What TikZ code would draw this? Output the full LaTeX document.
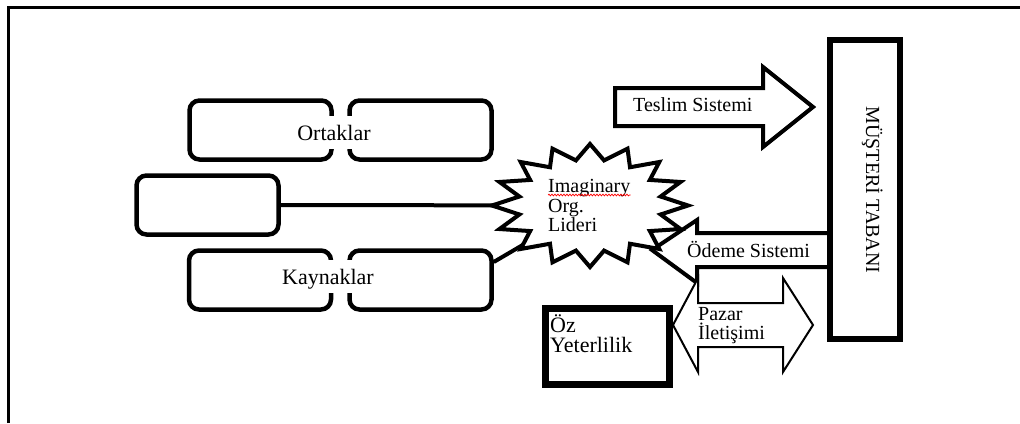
\documentclass[tikz,border=0pt]{standalone}
\usepackage{fontspec}
\setmainfont{Liberation Serif}
\usetikzlibrary{decorations.pathmorphing}

\begin{document}
\begin{tikzpicture}[x=1pt,y=-1pt,
  rbox/.style={draw, line width=4.5pt, rounded corners=10pt, minimum width=142pt, minimum height=59pt, inner sep=0pt},
  lbl/.style={font=\fontsize{20}{19}\selectfont, inner sep=0pt},
  biglbl/.style={font=\fontsize{22}{22}\selectfont, inner sep=0pt},
  gaplbl/.style={biglbl, fill=white, text height=15pt, text depth=0pt, inner ysep=9pt, inner xsep=2pt},
  link/.style={line width=4pt},
  bigarrow/.style={draw, fill=white, line width=4pt, line join=miter},
  thinarrow/.style={draw, fill=white, line width=2pt, line join=miter},
  heavybox/.style={draw, fill=white, inner sep=0pt},
  burst/.style={draw, fill=white, line width=4pt, line join=miter},
  spell/.style={red, line width=0.7pt, decorate, decoration={snake, amplitude=0.9pt, segment length=3pt}},
  frameline/.style={line width=3pt},
]
\useasboundingbox (0,0) rectangle (1020,423);

% page frame (top and left edges)
\draw[frameline] (8,423) -- (8,7) -- (1020,7);

% rounded boxes on the left
\node[rbox] (ortL) at (260.5,130) {};
\node[rbox] (ortR) at (420.5,130) {};
\node[rbox] (mid)  at (207.5,205) {};
\node[rbox] (kayL) at (260,280) {};
\node[rbox] (kayR) at (420.5,280) {};

% centre of the leader burst
\coordinate (lider) at (590,205.5);

% links into the leader
\draw[link] (mid.east) -- (lider);
\draw[link] ([yshift=18pt]kayR.east) -- (lider);

% delivery arrow
\draw[bigarrow] (615,88) -- (763,88) -- (763,67) -- (813,107) -- (763,147) -- (763,126) -- (615,126) -- cycle;
% payment arrow
\draw[bigarrow] (830,233) -- (697,233) -- (697,220) -- (652,250) -- (697,283) -- (697,267) -- (830,267) -- cycle;
% market communication double arrow
\draw[thinarrow] (673,325) -- (698,278) -- (698,303) -- (783,303) -- (783,278) -- (813,325)
  -- (783,372) -- (783,347) -- (698,347) -- (698,372) -- cycle;

% customer base and self-efficacy boxes
\node[heavybox, line width=6pt, minimum width=70.5pt, minimum height=299.5pt] (musteri) at (865,189.5) {};
\node[heavybox, line width=7pt, minimum width=124pt, minimum height=76pt] (oz) at (607.5,346.5) {};

% leader burst, 16 points
\draw[burst, shift={(lider)}]
  plot[variable=\k, samples at={0,...,31}]
  ({(mod(\k,2)==0 ? 98 : 72)*cos(90+\k*11.25)}, {-(mod(\k,2)==0 ? 61.5 : 46)*sin(90+\k*11.25)}) -- cycle;

% labels
\node[gaplbl, anchor=base] (ortT) at (334,140) {Ortaklar};
\node[gaplbl, anchor=base] (kayT) at (328,284) {Kaynaklar};

\node[lbl, anchor=base west] (imag) at (548,192) {Imaginary};
\draw[spell] ([yshift=-3pt]imag.base west) -- ([yshift=-3pt]imag.base east);
\node[lbl, anchor=base west] (org) at (548,212) {Org.};
\node[lbl, anchor=base west] (lid) at (548,231) {Lideri};

\node[lbl, anchor=base west] (teslim) at (633,111) {Teslim Sistemi};
\node[lbl, anchor=base west] (odeme) at (687,257) {Ödeme Sistemi};
\node[lbl, anchor=base west] (pazar1) at (698,320) {Pazar};
\node[lbl, anchor=base west] (pazar2) at (698,339) {İletişimi};

\node[biglbl, anchor=base west] (oz1) at (550,332) {Öz};
\node[biglbl, anchor=base west] (oz2) at (550,352) {Yeterlilik};

\node[lbl, rotate=-90, anchor=base] (musteriT) at (866,190) {MÜŞTERİ TABANI};
\end{tikzpicture}
\end{document}
